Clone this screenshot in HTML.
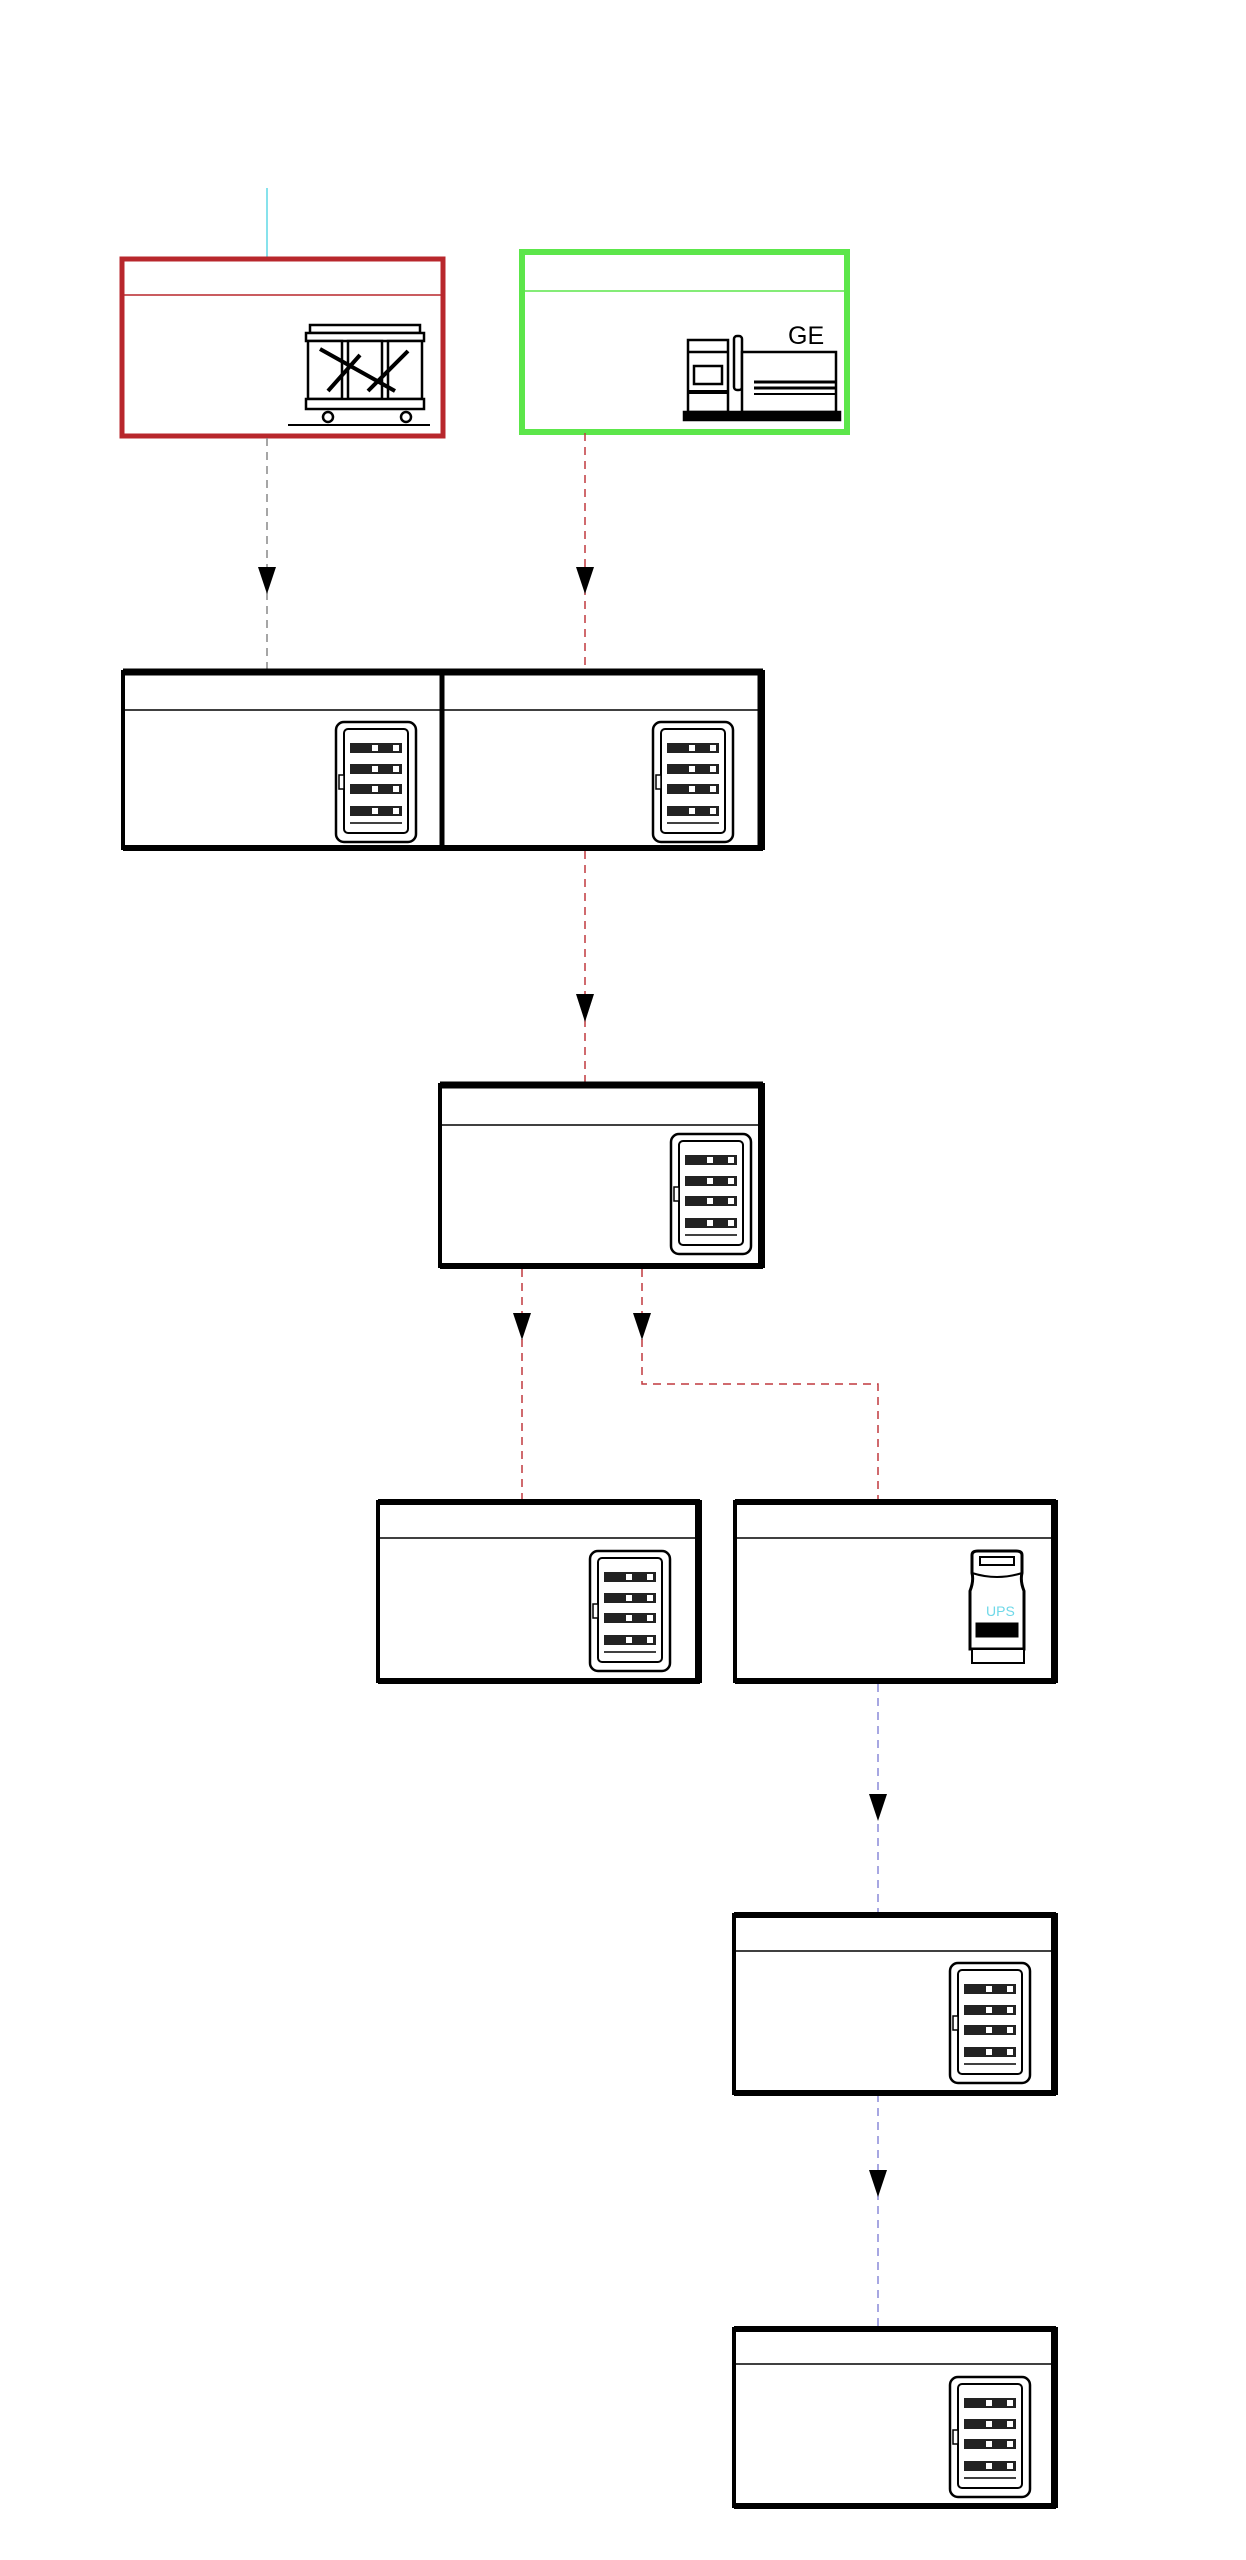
<!DOCTYPE html>
<html><head><meta charset="utf-8"><style>
html,body{margin:0;padding:0;background:#fff;}
svg{display:block;}
</style></head><body>
<svg width="1246" height="2560" viewBox="0 0 1246 2560" xmlns="http://www.w3.org/2000/svg" font-family="Liberation Sans, sans-serif">
<defs>
<g id="panel">
  <rect x="1" y="1" width="80" height="120" rx="8" fill="#fff" stroke="#000" stroke-width="2.5"/>
  <rect x="9" y="8" width="64" height="104" rx="4" fill="#fff" stroke="#000" stroke-width="2"/>
  <rect x="4" y="54" width="5" height="14" fill="#fff" stroke="#000" stroke-width="1.5"/>
  <g fill="#222">
    <rect x="15" y="22" width="52" height="10"/>
    <rect x="15" y="43" width="52" height="10"/>
    <rect x="15" y="63" width="52" height="10"/>
    <rect x="15" y="85" width="52" height="10"/>
  </g>
  <g fill="#fff">
    <rect x="37" y="24" width="6" height="6"/><rect x="58" y="24" width="6" height="6"/>
    <rect x="37" y="45" width="6" height="6"/><rect x="58" y="45" width="6" height="6"/>
    <rect x="37" y="65" width="6" height="6"/><rect x="58" y="65" width="6" height="6"/>
    <rect x="37" y="87" width="6" height="6"/><rect x="58" y="87" width="6" height="6"/>
  </g>
  <line x1="15" y1="102" x2="67" y2="102" stroke="#000" stroke-width="1.5"/>
</g>
<marker id="ah" markerWidth="10" markerHeight="10" refX="0" refY="0"/>
</defs>

<!-- cyan line -->
<line x1="267" y1="188" x2="267" y2="257" stroke="#5fd8e6" stroke-width="1.5"/>

<!-- red transformer box -->
<rect x="122" y="259" width="321" height="177" fill="#fff" stroke="#b8272c" stroke-width="5"/>
<line x1="122" y1="295" x2="443" y2="295" stroke="#b8272c" stroke-width="1.5"/>
<g transform="translate(300,325)" stroke="#000" fill="#fff">
  <rect x="10" y="0" width="110" height="8" stroke-width="2.5"/>
  <rect x="6" y="8" width="118" height="8" stroke-width="2.5"/>
  <rect x="8" y="16" width="34" height="58" stroke-width="2.5"/>
  <rect x="48" y="16" width="34" height="58" stroke-width="2.5"/>
  <rect x="88" y="16" width="34" height="58" stroke-width="2.5"/>
  <path d="M20 24 L95 66 M28 66 L60 30 M68 66 L108 26" stroke-width="4"/>
  <rect x="6" y="74" width="118" height="10" stroke-width="2.5"/>
  <circle cx="28" cy="92" r="5" stroke-width="2.5"/>
  <circle cx="106" cy="92" r="5" stroke-width="2.5"/>
  <line x1="-12" y1="100" x2="130" y2="100" stroke-width="2"/>
</g>

<!-- green generator box -->
<rect x="522" y="252" width="325" height="180" fill="#fff" stroke="#5ce64a" stroke-width="6"/>
<line x1="522" y1="291" x2="847" y2="291" stroke="#5ce64a" stroke-width="1.5"/>
<text x="788" y="344" font-size="25" fill="#000">GE</text>
<g transform="translate(684,332)" stroke="#000" fill="#fff" stroke-width="2.5">
  <rect x="4" y="8" width="40" height="72"/>
  <rect x="10" y="34" width="28" height="18"/>
  <line x1="4" y1="20" x2="44" y2="20"/>
  <line x1="4" y1="60" x2="44" y2="60" stroke-width="4"/>
  <rect x="50" y="4" width="8" height="54" rx="3"/>
  <rect x="58" y="20" width="94" height="60"/>
  <line x1="70" y1="50" x2="152" y2="50" stroke-width="3"/>
  <line x1="70" y1="56" x2="152" y2="56" stroke-width="3"/>
  <line x1="70" y1="62" x2="152" y2="62" stroke-width="2"/>
  <rect x="0" y="80" width="156" height="8" fill="#000"/>
</g>

<!-- connectors top -->
<line x1="267" y1="438" x2="267" y2="670" stroke="#888" stroke-width="1.5" stroke-dasharray="8,6"/>
<polygon points="258,567 276,567 267,594" fill="#000"/>
<line x1="585" y1="433" x2="585" y2="670" stroke="#c0393f" stroke-width="1.5" stroke-dasharray="8,6"/>
<polygon points="576,567 594,567 585,594" fill="#000"/>

<!-- combined box -->
<rect x="123" y="672" width="640" height="176" fill="#fff" stroke="#000" stroke-width="4"/>
<line x1="123" y1="672" x2="763" y2="672" stroke="#000" stroke-width="7"/>
<line x1="123" y1="848" x2="763" y2="848" stroke="#000" stroke-width="6"/>
<line x1="761" y1="672" x2="761" y2="848" stroke="#000" stroke-width="7"/>
<line x1="442" y1="672" x2="442" y2="848" stroke="#000" stroke-width="5"/>
<line x1="123" y1="710" x2="763" y2="710" stroke="#000" stroke-width="1.5"/>
<use href="#panel" transform="translate(335,721)"/>
<use href="#panel" transform="translate(652,721)"/>

<!-- connector to middle -->
<line x1="585" y1="851" x2="585" y2="1083" stroke="#c0393f" stroke-width="1.5" stroke-dasharray="8,6"/>
<polygon points="576,994 594,994 585,1022" fill="#000"/>

<!-- middle box -->
<rect x="440" y="1085" width="323" height="181" fill="#fff" stroke="#000" stroke-width="4"/>
<line x1="440" y1="1085" x2="763" y2="1085" stroke="#000" stroke-width="7"/>
<line x1="440" y1="1266" x2="763" y2="1266" stroke="#000" stroke-width="6"/>
<line x1="761" y1="1085" x2="761" y2="1266" stroke="#000" stroke-width="6"/>
<line x1="440" y1="1125" x2="763" y2="1125" stroke="#000" stroke-width="1.5"/>
<use href="#panel" transform="translate(670,1133)"/>

<!-- connectors from middle -->
<line x1="522" y1="1269" x2="522" y2="1500" stroke="#c0393f" stroke-width="1.5" stroke-dasharray="8,6"/>
<polygon points="513,1313 531,1313 522,1340" fill="#000"/>
<polyline points="642,1269 642,1384 878,1384 878,1500" fill="none" stroke="#c0393f" stroke-width="1.5" stroke-dasharray="8,6"/>
<polygon points="633,1313 651,1313 642,1340" fill="#000"/>

<!-- bottom left box -->
<rect x="378" y="1502" width="322" height="179" fill="#fff" stroke="#000" stroke-width="4"/>
<line x1="378" y1="1502" x2="700" y2="1502" stroke="#000" stroke-width="6"/>
<line x1="378" y1="1681" x2="700" y2="1681" stroke="#000" stroke-width="6"/>
<line x1="698" y1="1502" x2="698" y2="1681" stroke="#000" stroke-width="6"/>
<line x1="378" y1="1538" x2="700" y2="1538" stroke="#000" stroke-width="1.5"/>
<use href="#panel" transform="translate(589,1550)"/>

<!-- UPS box -->
<rect x="735" y="1502" width="321" height="179" fill="#fff" stroke="#000" stroke-width="4"/>
<line x1="735" y1="1502" x2="1056" y2="1502" stroke="#000" stroke-width="6"/>
<line x1="735" y1="1681" x2="1056" y2="1681" stroke="#000" stroke-width="6"/>
<line x1="1054" y1="1502" x2="1054" y2="1681" stroke="#000" stroke-width="6"/>
<line x1="735" y1="1538" x2="1056" y2="1538" stroke="#000" stroke-width="1.5"/>
<g transform="translate(966,1551)" stroke="#000" fill="#fff">
  <path d="M6 4 Q6 0 12 0 L50 0 Q56 0 56 4 L56 22 Q54 30 58 40 L58 98 L4 98 L4 40 Q8 30 6 22 Z" stroke-width="3"/>
  <rect x="14" y="6" width="34" height="8" stroke-width="2"/>
  <path d="M6 22 Q31 30 56 22" stroke-width="2" fill="none"/>
  <rect x="10" y="72" width="42" height="14" fill="#000"/>
  <rect x="6" y="98" width="52" height="14" stroke-width="2"/>
  <text x="20" y="65" font-size="14" fill="#6fd8e8" stroke="none">UPS</text>
</g>

<!-- blue connectors -->
<line x1="878" y1="1684" x2="878" y2="1913" stroke="#8a8ad8" stroke-width="1.5" stroke-dasharray="8,6"/>
<polygon points="869,1794 887,1794 878,1821" fill="#000"/>
<line x1="878" y1="2094" x2="878" y2="2327" stroke="#8a8ad8" stroke-width="1.5" stroke-dasharray="8,6"/>
<polygon points="869,2170 887,2170 878,2197" fill="#000"/>

<!-- box 6 -->
<rect x="734" y="1915" width="322" height="178" fill="#fff" stroke="#000" stroke-width="4"/>
<line x1="734" y1="1915" x2="1056" y2="1915" stroke="#000" stroke-width="6"/>
<line x1="734" y1="2093" x2="1056" y2="2093" stroke="#000" stroke-width="6"/>
<line x1="1054" y1="1915" x2="1054" y2="2093" stroke="#000" stroke-width="6"/>
<line x1="734" y1="1951" x2="1056" y2="1951" stroke="#000" stroke-width="1.5"/>
<use href="#panel" transform="translate(949,1962)"/>

<!-- box 7 -->
<rect x="734" y="2329" width="322" height="177" fill="#fff" stroke="#000" stroke-width="4"/>
<line x1="734" y1="2329" x2="1056" y2="2329" stroke="#000" stroke-width="6"/>
<line x1="734" y1="2506" x2="1056" y2="2506" stroke="#000" stroke-width="6"/>
<line x1="1054" y1="2329" x2="1054" y2="2506" stroke="#000" stroke-width="6"/>
<line x1="734" y1="2364" x2="1056" y2="2364" stroke="#000" stroke-width="1.5"/>
<use href="#panel" transform="translate(949,2376)"/>
</svg>
</body></html>
